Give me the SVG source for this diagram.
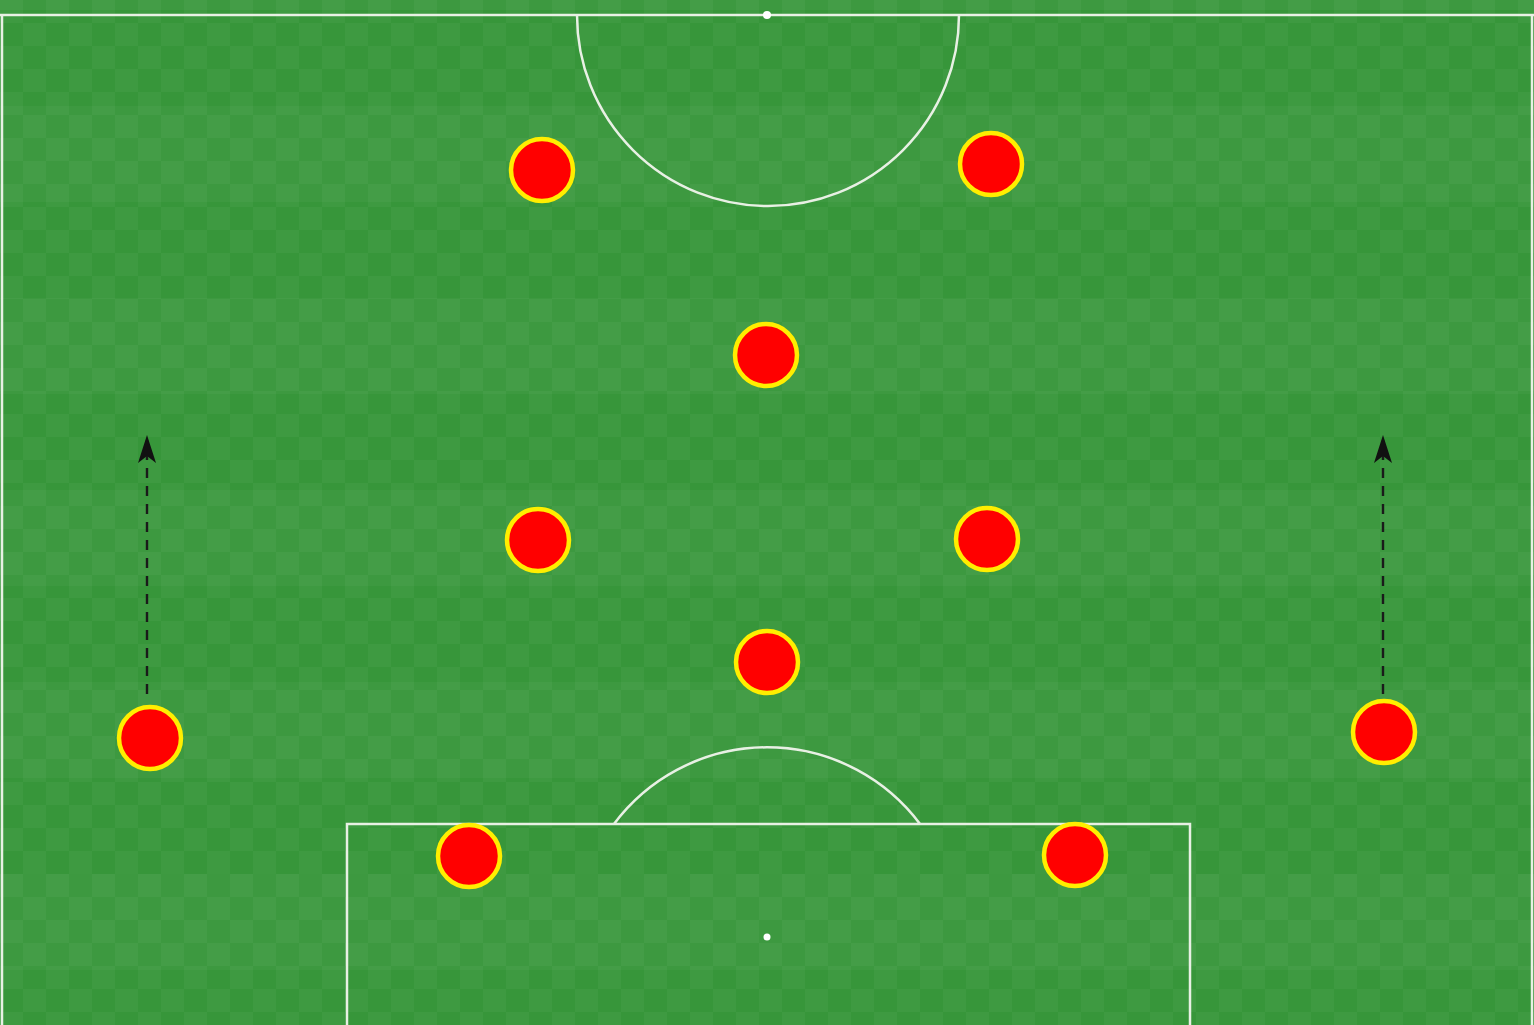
<svg xmlns="http://www.w3.org/2000/svg" width="1534" height="1025" viewBox="0 0 1534 1025">
  <defs>
    <style>
      .line { fill: none; stroke: #e8f0e4; stroke-width: 2.5; }
      .spot { fill: #ffffff; }
      .player { fill: #ff0000; stroke: #ffee00; stroke-width: 4.5; }
      .run { fill: none; stroke: #1a1a1a; stroke-width: 2.4; stroke-dasharray: 10 8; }
    </style>
    <pattern id="checker" x="0" y="0" width="46" height="46" patternUnits="userSpaceOnUse">
      <rect x="0" y="0" width="23" height="23" fill="#ffffff" opacity="0.035"/>
      <rect x="23" y="23" width="23" height="23" fill="#ffffff" opacity="0.035"/>
    </pattern>
    <pattern id="bands" x="0" y="10" width="1534" height="192" patternUnits="userSpaceOnUse">
      <rect x="0" y="96" width="1534" height="96" fill="#ffffff" opacity="0.03"/>
    </pattern>
    <marker id="arrow" viewBox="0 0 30 20" refX="23" refY="10" markerWidth="30" markerHeight="20" markerUnits="userSpaceOnUse" orient="auto">
      <path d="M28 10 L0 1 L7 10 L0 19 Z" fill="#111111"/>
    </marker>
  </defs>

  <g id="pitch">
    <rect x="0" y="0" width="1534" height="1025" fill="#37963a"/>
    <rect x="0" y="0" width="1534" height="1025" fill="url(#bands)"/>
    <rect x="0" y="0" width="1534" height="1025" fill="url(#checker)"/>
    <line class="line" x1="0" y1="15" x2="1534" y2="15"/>
    <line class="line" x1="2" y1="15" x2="2" y2="1025"/>
    <line class="line" x1="1532" y1="15" x2="1532" y2="1025"/>
    <path class="line" d="M577 15 A191 191 0 0 0 959 15"/>
    <circle class="spot" cx="767" cy="15" r="4"/>
    <path class="line" d="M347 1025 L347 824 L1190 824 L1190 1025"/>
    <path class="line" d="M614 824 A191 191 0 0 1 920 824"/>
    <circle class="spot" cx="767" cy="937" r="3.5"/>
  </g>

  <g id="connectors">
    <line class="run" x1="147" y1="694" x2="147" y2="440" marker-end="url(#arrow)"/>
    <line class="run" x1="1383" y1="694" x2="1383" y2="440" marker-end="url(#arrow)"/>
  </g>

  <g id="p1"><circle class="player" cx="542" cy="170" r="31"/></g>
  <g id="p2"><circle class="player" cx="991" cy="164" r="31"/></g>
  <g id="p3"><circle class="player" cx="766" cy="355" r="31"/></g>
  <g id="p4"><circle class="player" cx="538" cy="540" r="31"/></g>
  <g id="p5"><circle class="player" cx="987" cy="539" r="31"/></g>
  <g id="p6"><circle class="player" cx="767" cy="662" r="31"/></g>
  <g id="p7"><circle class="player" cx="150" cy="738" r="31"/></g>
  <g id="p8"><circle class="player" cx="1384" cy="732" r="31"/></g>
  <g id="p9"><circle class="player" cx="469" cy="856" r="31"/></g>
  <g id="p10"><circle class="player" cx="1075" cy="855" r="31"/></g>
</svg>
